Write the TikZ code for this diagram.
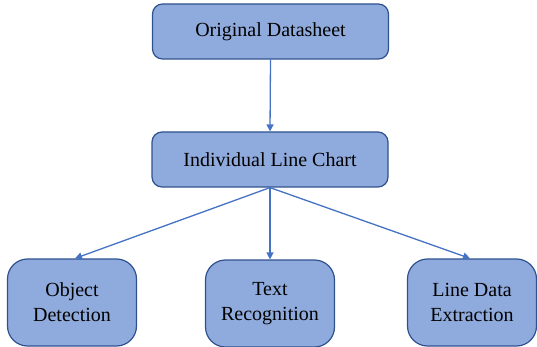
\documentclass[tikz,border=0pt]{standalone}
\usepackage{fontspec}
\setmainfont{Liberation Serif}
\usetikzlibrary{arrows.meta}
\definecolor{boxfill}{HTML}{8FAADC}
\definecolor{boxline}{HTML}{2F528F}
\definecolor{arrowc}{HTML}{4472C4}
\tikzset{
  topbox/.style={draw=boxline, fill=boxfill, line width=1.2pt, rounded corners=10pt,
    minimum width=236pt, minimum height=55pt, inner sep=0pt, font=\fontsize{20}{23}\selectfont},
  leafbox/.style={draw=boxline, fill=boxfill, line width=1.2pt, rounded corners=20pt,
    minimum width=129pt, minimum height=87pt, inner sep=0pt, align=center,
    font=\fontsize{20}{25}\selectfont},
  conn/.style={draw=arrowc, line width=1.3pt, -{Triangle[length=7pt,width=7pt]}}
}
\begin{document}
\begin{tikzpicture}[x=1pt,y=-1pt]
\useasboundingbox (0,0) rectangle (537,347);
\node[topbox] (orig) at (270.5,31.5) {Original Datasheet};
\node[topbox] (ilc) at (270,159.5) {Individual Line Chart};
\node[leafbox] (obj) at (72,302.5) {Object\\Detection};
\node[leafbox] (txt) at (270,303.5) {Text\\Recognition};
\node[leafbox] (lde) at (472,302.5) {Line Data\\Extraction};
\draw[conn] (orig.south) -- (ilc.north);
\draw[conn] (ilc.south) -- ([xshift=3pt]obj.north);
\draw[conn] (ilc.south) -- (txt.north);
\draw[conn] (ilc.south) -- ([xshift=-2pt]lde.north);
\end{tikzpicture}
\end{document}
